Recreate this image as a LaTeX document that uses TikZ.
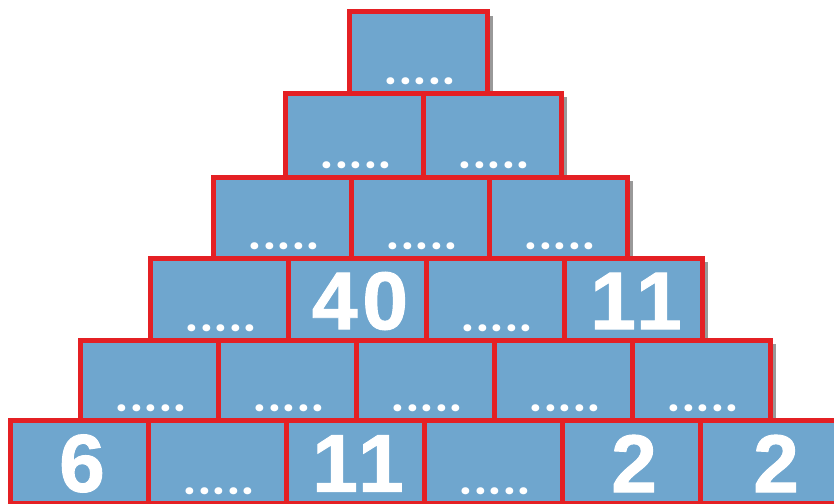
\documentclass[tikz,border=0pt]{standalone}
\usepackage{fontspec}
\setmainfont{Liberation Sans}
\newfontfamily\heavy[FakeBold=1.2,LetterSpace=6]{Liberation Sans Bold}
\newfontfamily\dotfont[LetterSpace=10]{Poppins Bold}
\usetikzlibrary{shadows}
\definecolor{boxblue}{RGB}{111,166,206}
\definecolor{boxred}{RGB}{228,32,36}
\begin{document}
\begin{tikzpicture}[x=1pt,y=-1pt,
  brick/.style={draw=boxred, fill=boxblue, line width=5pt, minimum width=138pt,
    anchor=north west, inner sep=0pt, outer sep=0pt},
  dots/.style={text=white, font=\dotfont\fontsize{38}{38}\selectfont, anchor=base, inner sep=0pt},
  num/.style={text=white, font=\heavy\fontsize{82}{82}\selectfont, inner sep=0pt},
  rowshadow/.style={fill=boxblue, drop shadow={shadow xshift=6pt, shadow yshift=-4pt, opacity=0.4, fill=black}}]
\useasboundingbox (0,0) rectangle (834,503);
\fill[white] (0,0) rectangle (834,503);
\clip (0,0) rectangle (834,503);
\foreach \r/\x/\y/\h in {1/349/12/81,2/285/93/84,3/213/177/81,4/150/258/82,5/80/340/80,6/10/420/83}{
  \pgfmathsetmacro\w{138*\r}
  \fill[rowshadow] (\x,\y) rectangle ++(\w,\h);
  \foreach \i in {1,...,\r}{
    \node[brick, minimum height=\h pt] (b\r\i) at ({\x+138*(\i-1)},\y) {};
  }
}
\foreach \n in {11,21,22,31,32,33,41,43,51,52,53,54,55,62,64}{
  \node[dots] (d\n) at ([xshift=2pt,yshift=9pt]b\n.south) {.....};
}
\node[num] (n42) at ([xshift=3pt,yshift=-2pt]b42.center) {40};
\node[num] (n44) at ([xshift=3pt,yshift=-2pt]b44.center) {11};
\node[num] (n61) at ([xshift=3pt,yshift=-2pt]b61.center) {6};
\node[num] (n63) at ([xshift=3pt,yshift=-2pt]b63.center) {11};
\node[num] (n65) at ([xshift=3pt,yshift=-2pt]b65.center) {2};
\node[num] (n66) at ([xshift=7pt,yshift=-2pt]b66.center) {2};
\end{tikzpicture}
\end{document}
